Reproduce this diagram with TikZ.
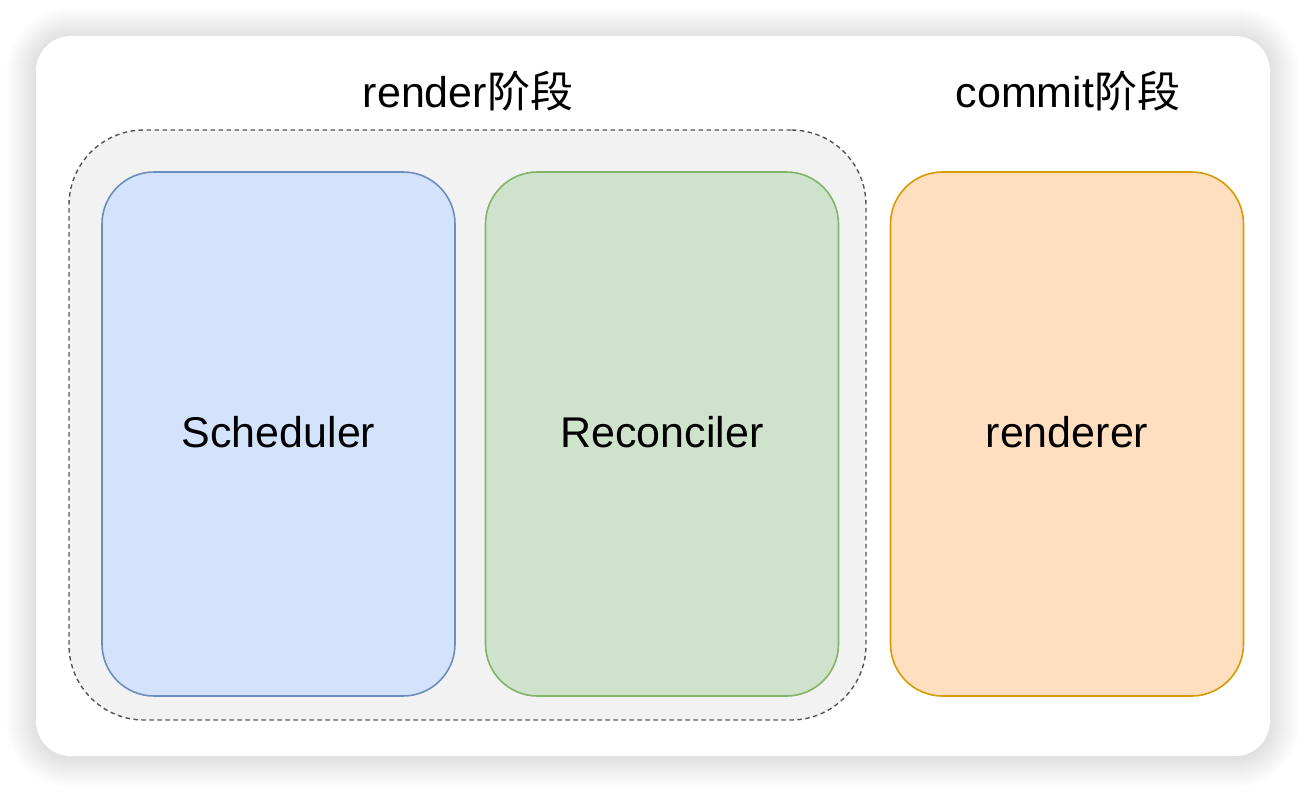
\documentclass[tikz,border=0pt]{standalone}
\usepackage{fontspec}
\setmainfont{Liberation Sans}
\newfontfamily\cjk{Noto Sans CJK SC}
\definecolor{blueFill}{HTML}{D4E3FC}
\definecolor{blueLine}{HTML}{6C8EBF}
\definecolor{greenFill}{HTML}{CFE3CC}
\definecolor{greenLine}{HTML}{82B366}
\definecolor{orangeFill}{HTML}{FFDFC0}
\definecolor{orangeLine}{HTML}{D79B00}
\definecolor{groupFill}{HTML}{F2F2F2}
\definecolor{groupLine}{HTML}{555555}
\tikzset{
  panel/.style={rectangle, rounded corners=52pt, line width=1.6pt,
    minimum width=353pt, minimum height=524pt, inner sep=0pt,
    font=\fontsize{43pt}{50pt}\selectfont},
  title/.style={anchor=base, inner sep=0pt, font=\fontsize{43pt}{50pt}\selectfont},
}
\begin{document}
\begin{tikzpicture}[x=1pt,y=-1pt]
\useasboundingbox (0,0) rectangle (1306,792);
\fill[white] (0,0) rectangle (1306,792);
% shadow
\foreach \i in {1,...,30}{
  \fill[black, opacity=0.0055, rounded corners={35+\i}] (36-\i,37-\i) rectangle (1270+\i,758+\i);
}
% card
\fill[white, rounded corners=35pt] (36,36) rectangle (1270,756);
% group
\node[rectangle, rounded corners=75pt, draw=groupLine, fill=groupFill, line width=1.4pt,
  dash pattern=on 4.5pt off 3.5pt, minimum width=797pt, minimum height=590pt, inner sep=0pt]
  (group) at (467.5,425) {};
\node[panel, draw=blueLine, fill=blueFill] (sched) at (278.5,434) {};
\node[panel, draw=greenLine, fill=greenFill] (recon) at (662,434) {};
\node[panel, draw=orangeLine, fill=orangeFill] (rend) at (1067,434) {};
\node[title] (schedtxt) at (278.5,447) {Scheduler};
\node[title] (recontxt) at (662,447) {Reconciler};
\node[title] (rendtxt) at (1067,447) {renderer};
\node[title] (rtitle) at (468,107.5) {render{\cjk 阶段}};
\node[title] (ctitle) at (1068,107.5) {commit{\cjk 阶段}};
\end{tikzpicture}
\end{document}
